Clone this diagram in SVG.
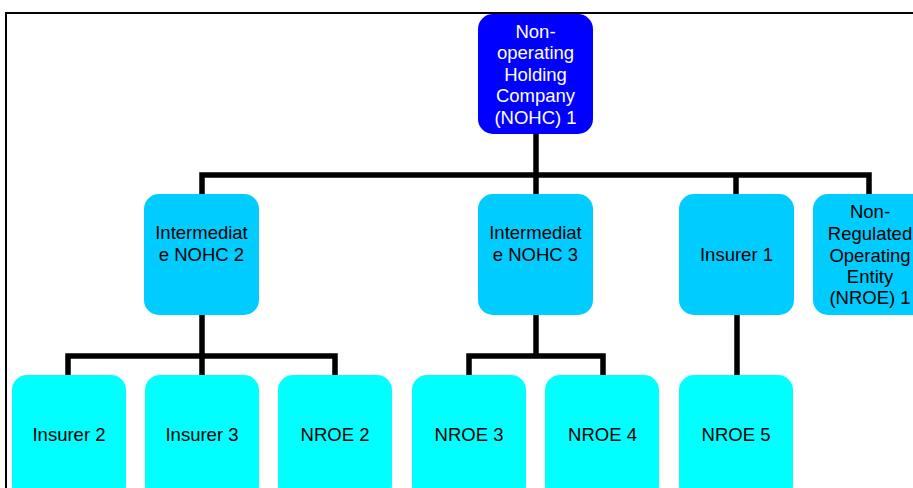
<svg xmlns="http://www.w3.org/2000/svg" width="913" height="488" viewBox="0 0 913 488">
<style>
.t{font-family:"Liberation Sans",Arial,sans-serif;font-size:18.5px;text-anchor:middle;fill:#000}
.w{fill:#fff}
.top{fill:#0000ff}
.mid{fill:#00ccff}
.bot{fill:#00ffff}
.c{fill:none;stroke:#000;stroke-width:5.5;stroke-linejoin:miter}
</style>
<rect width="913" height="488" fill="#fff"/>
<path d="M6,488 V13 H913" fill="none" stroke="#000" stroke-width="2"/>
<g id="connectors">
<path class="c" d="M202,194 V175 H869 V194"/>
<path class="c" d="M536,134 V194"/>
<path class="c" d="M736,175 V194"/>
<path class="c" d="M202,315 V375"/>
<path class="c" d="M68,375 V356 H335 V375"/>
<path class="c" d="M536,315 V356"/>
<path class="c" d="M469,375 V356 H603 V375"/>
<path class="c" d="M737,315 V375"/>
</g>
<g id="nohc1">
<rect class="top" x="478" y="14" width="115" height="120" rx="15"/>
<text class="t w" x="535.5"><tspan x="535.5" y="38">Non-</tspan><tspan x="535.5" y="59">operating</tspan><tspan x="535.5" y="80.5">Holding</tspan><tspan x="535.5" y="102">Company</tspan><tspan x="535.5" y="123.5">(NOHC) 1</tspan></text>
</g>
<g id="nohc2">
<rect class="mid" x="144" y="194" width="115" height="121" rx="15"/>
<text class="t"><tspan x="201.5" y="239">Intermediat</tspan><tspan x="201.5" y="261">e NOHC 2</tspan></text>
</g>
<g id="nohc3">
<rect class="mid" x="478" y="194" width="115" height="121" rx="15"/>
<text class="t"><tspan x="535.5" y="239">Intermediat</tspan><tspan x="535.5" y="261">e NOHC 3</tspan></text>
</g>
<g id="insurer1">
<rect class="mid" x="679" y="194" width="115" height="121" rx="15"/>
<text class="t" x="736.5" y="261">Insurer 1</text>
</g>
<g id="nroe1">
<rect class="mid" x="813" y="194" width="115" height="121" rx="15"/>
<text class="t"><tspan x="870" y="218">Non-</tspan><tspan x="870" y="240">Regulated</tspan><tspan x="870" y="261.5">Operating</tspan><tspan x="870" y="283">Entity</tspan><tspan x="870" y="304">(NROE) 1</tspan></text>
</g>
<g id="insurer2">
<rect class="bot" x="12" y="375" width="114" height="125" rx="15"/>
<text class="t" x="69" y="441">Insurer 2</text>
</g>
<g id="insurer3">
<rect class="bot" x="145" y="375" width="114" height="125" rx="15"/>
<text class="t" x="202" y="441">Insurer 3</text>
</g>
<g id="nroe2">
<rect class="bot" x="278" y="375" width="114" height="125" rx="15"/>
<text class="t" x="335" y="441">NROE 2</text>
</g>
<g id="nroe3">
<rect class="bot" x="412" y="375" width="114" height="125" rx="15"/>
<text class="t" x="469" y="441">NROE 3</text>
</g>
<g id="nroe4">
<rect class="bot" x="545" y="375" width="114" height="125" rx="15"/>
<text class="t" x="602.5" y="441">NROE 4</text>
</g>
<g id="nroe5">
<rect class="bot" x="679" y="375" width="114" height="125" rx="15"/>
<text class="t" x="736" y="441">NROE 5</text>
</g>
</svg>
